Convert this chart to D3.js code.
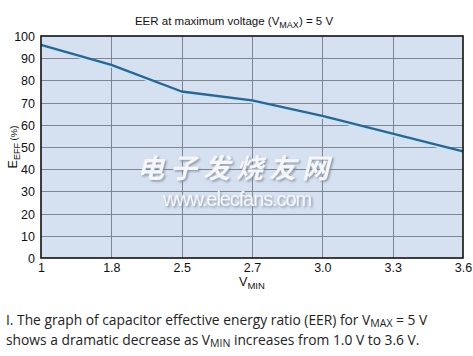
<!DOCTYPE html>
<html><head><meta charset="utf-8">
<script src="https://cdn.jsdelivr.net/npm/d3@7"></script>
<style>
body{margin:0;background:#fff;}
svg{display:block;}
</style></head>
<body>
<svg id="c" width="473" height="356"></svg>
<script>
const categories = ["1", "1.8", "2.5", "2.7", "3.0", "3.3", "3.6"];
const eerValues = [96, 87, 75, 71, 64, 56, 48];
const yTicks = [0, 10, 20, 30, 40, 50, 60, 70, 80, 90, 100];

const svg = d3.select("#c");
const m = {left: 41, right: 463, top: 36, bottom: 258};

const x = d3.scalePoint().domain(categories).range([m.left, m.right]);
const y = d3.scaleLinear().domain([0, 100]).range([m.bottom, m.top]);

// plot background
svg.append("rect").attr("x", m.left).attr("y", m.top)
  .attr("width", m.right - m.left).attr("height", m.bottom - m.top)
  .attr("fill", "#d5e1f1");

// gridlines
const grid = svg.append("g").attr("stroke", "#7d8591").attr("stroke-width", 1);
yTicks.slice(1, -1).forEach(t => {
  grid.append("line").attr("x1", m.left).attr("x2", m.right)
    .attr("y1", Math.round(y(t)) + 0.5).attr("y2", Math.round(y(t)) + 0.5);
});
categories.slice(1, -1).forEach(c => {
  grid.append("line").attr("y1", m.top).attr("y2", m.bottom)
    .attr("x1", Math.round(x(c)) + 0.5).attr("x2", Math.round(x(c)) + 0.5);
});

// watermark
const wm = svg.append("g").attr("pointer-events", "none");
const wmDefs = svg.append("defs");
const f = wmDefs.append("filter").attr("id", "sh").attr("x", "-10%").attr("y", "-30%").attr("width", "120%").attr("height", "160%");
f.append("feDropShadow").attr("dx", 1.5).attr("dy", 1.5).attr("stdDeviation", 0.8).attr("flood-color", "#7a8290").attr("flood-opacity", 0.8);
wm.append("text").attr("x", 236).attr("y", 178).attr("text-anchor", "middle")
  .attr("font-family", "Noto Sans CJK SC").attr("font-weight", "bold").attr("font-size", 27).attr("font-style", "italic")
  .attr("letter-spacing", 6).attr("fill", "#f4f6fa").attr("filter", "url(#sh)")
  .text("电子发烧友网");
wm.append("text").attr("x", 237).attr("y", 206).attr("text-anchor", "middle")
  .attr("font-family", "Liberation Sans, Arial").attr("font-size", 20).attr("letter-spacing", -1.1)
  .attr("fill", "#f4f6fa").attr("filter", "url(#sh)")
  .text("www.elecfans.com");

// line with light glow
const line = d3.line().x((d, i) => x(categories[i])).y(d => y(d));
svg.append("path").datum(eerValues).attr("d", line)
  .attr("fill", "none").attr("stroke", "#c2e6fb").attr("stroke-width", 3)
  .attr("transform", "translate(0,1.3)");
svg.append("path").datum(eerValues).attr("d", line)
  .attr("fill", "none").attr("stroke", "#2f6490").attr("stroke-width", 2.4)
  .attr("stroke-linejoin", "round");

// border
svg.append("rect").attr("x", m.left).attr("y", m.top)
  .attr("width", m.right - m.left).attr("height", m.bottom - m.top)
  .attr("fill", "none").attr("stroke", "#111").attr("stroke-width", 1.6);

// axes (labels only)
const font = "Liberation Sans, Arial, sans-serif";
const yAxis = d3.axisLeft(y).tickValues(yTicks).tickSize(0).tickPadding(6);
const gy = svg.append("g").attr("transform", `translate(${m.left},0)`).call(yAxis);
gy.select(".domain").remove();
gy.selectAll("text").attr("font-family", font).attr("font-size", 12.5).attr("fill", "#111").attr("dy", "0.36em");

const xAxis = d3.axisBottom(x).tickSize(0).tickPadding(5);
const gx = svg.append("g").attr("transform", `translate(0,${m.bottom})`).call(xAxis);
gx.select(".domain").remove();
gx.selectAll("text").attr("font-family", font).attr("font-size", 12.5).attr("fill", "#111");

// title
const title = svg.append("text").attr("x", 234).attr("y", 25).attr("text-anchor", "middle")
  .attr("font-family", font).attr("font-size", 11.5).attr("fill", "#111");
title.append("tspan").text("EER at maximum voltage (V");
title.append("tspan").attr("font-size", 9).attr("dy", 3).text("MAX");
title.append("tspan").attr("dy", -3).text(") = 5 V");

// x title
const xt = svg.append("text").attr("x", 252).attr("y", 286).attr("text-anchor", "middle")
  .attr("font-family", font).attr("font-size", 12.5).attr("fill", "#111");
xt.append("tspan").text("V");
xt.append("tspan").attr("font-size", 9.5).attr("dy", 2.5).text("MIN");

// y title
const yt = svg.append("text").attr("transform", "translate(17,147) rotate(-90)").attr("text-anchor", "middle")
  .attr("font-family", font).attr("font-size", 12.5).attr("fill", "#111");
yt.append("tspan").text("E");
yt.append("tspan").attr("font-size", 9).attr("dy", 3).text("EFF");
yt.append("tspan").attr("font-size", 9.5).attr("dy", -3).text(" (%)");

// caption
const capFont = "Open Sans, sans-serif";
const c1 = svg.append("text").attr("x", 6).attr("y", 325).attr("font-family", capFont)
  .attr("font-size", 13.8).attr("fill", "#222");
c1.append("tspan").text("I. The graph of capacitor effective energy ratio (EER) for V");
c1.append("tspan").attr("font-size", 10.5).attr("dy", 1.5).text("MAX");
c1.append("tspan").attr("dy", -1.5).text(" = 5 V");
const c2 = svg.append("text").attr("x", 6).attr("y", 345).attr("font-family", capFont)
  .attr("font-size", 13.8).attr("fill", "#222");
c2.append("tspan").text("shows a dramatic decrease as V");
c2.append("tspan").attr("font-size", 10.5).attr("dy", 1.5).text("MIN");
c2.append("tspan").attr("dy", -1.5).text(" increases from 1.0 V to 3.6 V.");
</script>
</body></html>
